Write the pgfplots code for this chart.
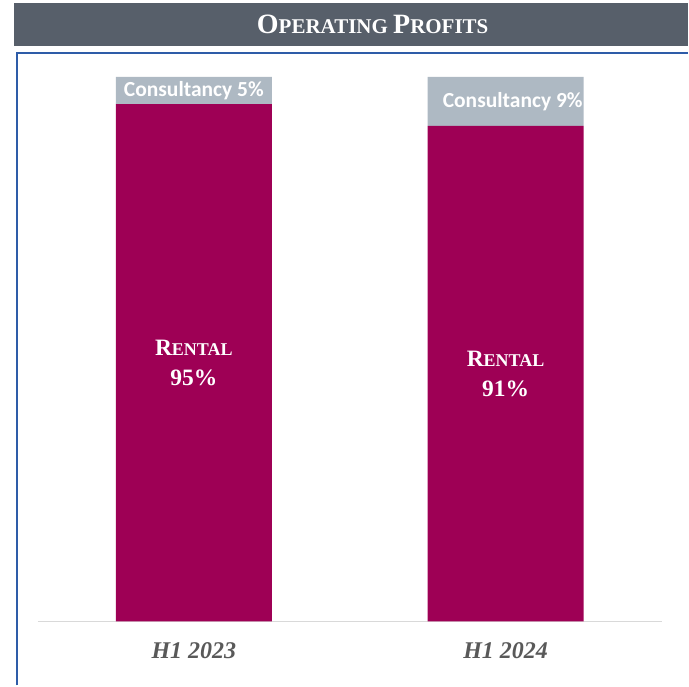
\documentclass[border=0pt]{standalone}
\usepackage{fontspec}
\setmainfont{Liberation Serif}
\newfontfamily\carlito{Carlito}
\usepackage{pgfplots}
\pgfplotsset{compat=1.18}
\definecolor{rental}{HTML}{9E0055}
\definecolor{consult}{HTML}{AEB9C3}
\definecolor{titlebar}{HTML}{575F6A}
\definecolor{frameblue}{HTML}{2E5CA8}
\definecolor{ticktext}{HTML}{595959}
\definecolor{baseline}{HTML}{D9D9D9}
\begin{document}
\begin{tikzpicture}[x=1pt,y=1pt]
\path (0,0) rectangle (689,686);
\fill[titlebar] (14,640) rectangle (689,683);
\node[text=white, font=\bfseries] at (373,661.5) {{\fontsize{28}{30}\selectfont O}{\fontsize{21}{24}\selectfont PERATING }{\fontsize{28}{30}\selectfont P}{\fontsize{21}{24}\selectfont ROFITS}};
\draw[frameblue, line width=1.2pt] (17,0) -- (17,633) -- (689,633);
\begin{axis}[
  at={(38pt,64pt)}, anchor=south west,
  scale only axis, width=625pt, height=545pt,
  xmin=0, xmax=625, ymin=0, ymax=100,
  ybar stacked, bar width=156,
  axis y line=none, axis x line=bottom,
  x axis line style={draw=baseline, line width=1.5pt, -},
  major tick length=0pt,
  xtick={156,468}, xticklabels={H1 2023, H1 2024},
  xticklabel style={anchor=center, yshift=-29pt, text=ticktext, font=\fontsize{24}{28}\selectfont\bfseries\itshape},
  ytick=\empty,
  clip=false,
]
\addplot[fill=rental, draw=none] coordinates {(156,95) (468,91)};
\addplot[fill=consult, draw=none] coordinates {(156,5) (468,9)};
\coordinate (r1) at (axis cs:156,47.5);
\coordinate (r2) at (axis cs:468,45.5);
\coordinate (c1) at (axis cs:156,97.5);
\coordinate (c2) at (axis cs:405,95.5);
\coordinate (b2ll) at (axis cs:390,91);
\coordinate (b2ur) at (axis cs:546,100);
\end{axis}
\node[text=white, align=center, font=\bfseries\fontsize{23.5}{30}\selectfont] at (r1) {R{\fontsize{18}{20}\selectfont ENTAL}\\95\%};
\node[text=white, align=center, font=\bfseries\fontsize{23.5}{30}\selectfont] at (r2) {R{\fontsize{18}{20}\selectfont ENTAL}\\91\%};
\node[text=white, font=\carlito\bfseries\fontsize{21.5}{24}\selectfont, inner sep=0pt] at (c1) {Consultancy 5\%};
\begin{scope}
\clip (b2ll) rectangle (b2ur);
\node[text=white, font=\carlito\bfseries\fontsize{21.5}{24}\selectfont, inner sep=0pt, anchor=west] at (c2) {Consultancy 9\%};
\end{scope}
\end{tikzpicture}
\end{document}
